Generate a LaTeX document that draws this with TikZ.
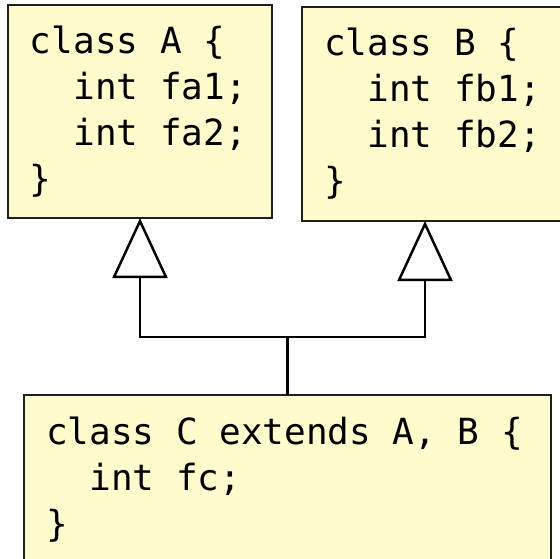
\documentclass[tikz,border=0pt]{standalone}
\usepackage{fontspec}
\usetikzlibrary{arrows.meta}
\newfontfamily\codefont{DejaVu Sans Mono}
\definecolor{boxfill}{RGB}{255,251,204}
\newcommand{\codesize}{\codefont\fontsize{36}{46}\selectfont}
% one monospace blank
\newcommand{\csp}{\phantom{x}}
\newcommand{\ind}{\phantom{xx}}

\begin{document}
\begin{tikzpicture}[x=1pt, y=-1pt,
  classbox/.style={rectangle, draw=black!88, fill=boxfill, line width=2pt, outer sep=0pt, anchor=north west, align=left, inner xsep=22pt, inner ysep=0pt, font=\codesize},
  inherit/.style={-{Triangle[open, width=55pt, length=60pt]}, line width=2.5pt}]
\useasboundingbox (0,0) rectangle (560,558);
\clip (0,0) rectangle (560,558);

\node[classbox, text width=220pt, minimum height=213pt] (A) at (8,5) {class\csp A\csp\{\\\ind int\csp fa1;\\\ind int\csp fa2;\\\}};
\node[classbox, text width=250pt, minimum height=214pt] (B) at (302,7) {class\csp B\csp\{\\\ind int\csp fb1;\\\ind int\csp fb2;\\\}};
\node[classbox, text width=483pt, minimum height=170pt] (C) at (24,395) {class\csp C\csp extends\csp A,\csp B\csp\{\\\ind int\csp fc;\\\}};

\path (C.north) ++(0,-58) coordinate (fork);
\draw[inherit] (C.north) -- (fork) -| (A.south);
\draw[inherit] (fork) -| ([xshift=123pt]B.south west);
\end{tikzpicture}
\end{document}
